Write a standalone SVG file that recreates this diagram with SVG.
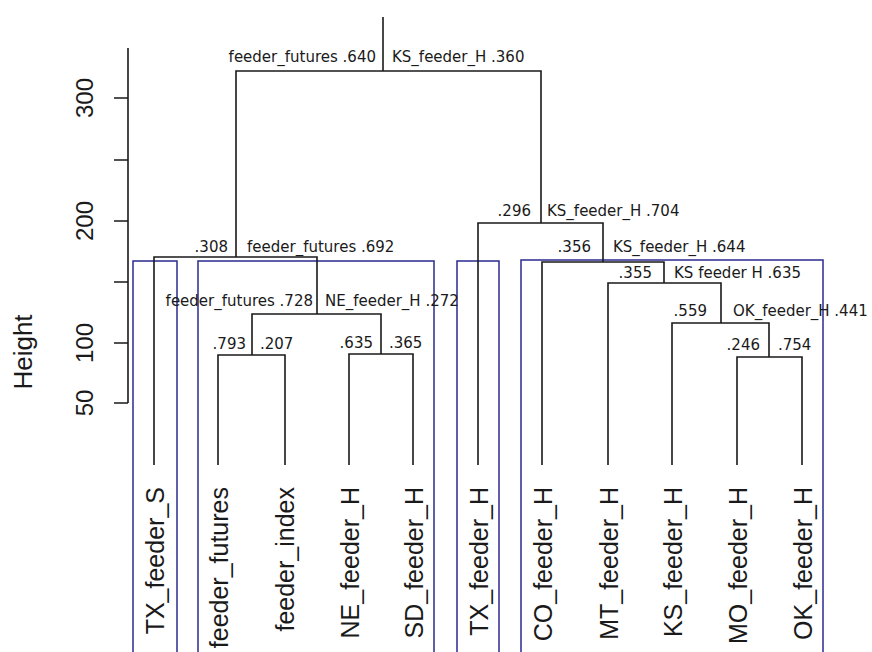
<svg xmlns="http://www.w3.org/2000/svg" width="872" height="652" viewBox="0 0 872 652">
<style>
.ln{fill:none;stroke:#1a1a1a;stroke-width:1.6}
.box{fill:none;stroke:#2a2a8e;stroke-width:1.5}
.nl{font-family:"DejaVu Sans",sans-serif;font-size:15px;fill:#1a1a1a}
.leaf{font-family:"Liberation Sans",Arial,sans-serif;font-size:25px;fill:#1a1a1a;text-anchor:end}
.ax{font-family:"Liberation Sans",Arial,sans-serif;font-size:24px;fill:#1a1a1a;text-anchor:middle}
.e{text-anchor:end}
</style>
<rect width="872" height="652" fill="#ffffff"/>
<g id="axis">
<path class="ln" d="M128 48V403M114 98H128M114 160H128M114 221H128M114 282H128M114 343H128M114 403H128"/>
<text class="ax" transform="translate(93,98) rotate(-90)">300</text>
<text class="ax" transform="translate(93,221) rotate(-90)">200</text>
<text class="ax" transform="translate(93,343) rotate(-90)">100</text>
<text class="ax" transform="translate(93,403) rotate(-90)">50</text>
<text class="ax" style="font-size:26px" transform="translate(32,352) rotate(-90)">Height</text>
</g>
<g id="clusters">
<rect class="box" x="133" y="261" width="44" height="400"/>
<rect class="box" x="198" y="261" width="236" height="400"/>
<rect class="box" x="457" y="261" width="42" height="400"/>
<rect class="box" x="521" y="260" width="302" height="400"/>
</g>
<g id="connectors">
<path class="ln" d="M218 465V355H285V465"/>
<path class="ln" d="M349 465V354H413V465"/>
<path class="ln" d="M252 355V314H381V354"/>
<path class="ln" d="M154 465V257H317V314"/>
<path class="ln" d="M236 257V71H541V223"/>
<path class="ln" d="M383 71V17"/>
<path class="ln" d="M737 465V357H802V465"/>
<path class="ln" d="M672 465V323H769V357"/>
<path class="ln" d="M608 465V283H721V323"/>
<path class="ln" d="M542 465V262H664V283"/>
<path class="ln" d="M478 465V223H603V262"/>
</g>
<g id="leaf-TX_feeder_S"><text class="leaf" transform="translate(164,487) rotate(-90)">TX_feeder_S</text></g>
<g id="leaf-feeder_futures"><text class="leaf" transform="translate(228,487) rotate(-90)">feeder_futures</text></g>
<g id="leaf-feeder_index"><text class="leaf" transform="translate(294,487) rotate(-90)">feeder_index</text></g>
<g id="leaf-NE_feeder_H"><text class="leaf" transform="translate(359,487) rotate(-90)">NE_feeder_H</text></g>
<g id="leaf-SD_feeder_H"><text class="leaf" transform="translate(423,487) rotate(-90)">SD_feeder_H</text></g>
<g id="leaf-TX_feeder_H"><text class="leaf" transform="translate(488,487) rotate(-90)">TX_feeder_H</text></g>
<g id="leaf-CO_feeder_H"><text class="leaf" transform="translate(552,487) rotate(-90)">CO_feeder_H</text></g>
<g id="leaf-MT_feeder_H"><text class="leaf" transform="translate(618,487) rotate(-90)">MT_feeder_H</text></g>
<g id="leaf-KS_feeder_H"><text class="leaf" transform="translate(682,487) rotate(-90)">KS_feeder_H</text></g>
<g id="leaf-MO_feeder_H"><text class="leaf" transform="translate(747,487) rotate(-90)">MO_feeder_H</text></g>
<g id="leaf-OK_feeder_H"><text class="leaf" transform="translate(812,487) rotate(-90)">OK_feeder_H</text></g>
<g id="node-root"><text class="nl e" x="376" y="62">feeder_futures .640</text><text class="nl" x="392" y="62">KS_feeder_H .360</text></g>
<g id="node-left"><text class="nl e" x="228" y="252">.308</text><text class="nl" x="247" y="252">feeder_futures .692</text></g>
<g id="node-left2"><text class="nl e" x="313" y="306">feeder_futures .728</text><text class="nl" x="325" y="306">NE_feeder_H .272</text></g>
<g id="node-futures-index"><text class="nl e" x="246" y="349">.793</text><text class="nl" x="260" y="349">.207</text></g>
<g id="node-NE-SD"><text class="nl e" x="373" y="348">.635</text><text class="nl" x="389" y="348">.365</text></g>
<g id="node-right"><text class="nl e" x="531" y="216">.296</text><text class="nl" x="547" y="216">KS_feeder_H .704</text></g>
<g id="node-right2"><text class="nl e" x="591" y="252">.356</text><text class="nl" x="613" y="252">KS_feeder_H .644</text></g>
<g id="node-right3"><text class="nl e" x="652" y="278">.355</text><text class="nl" x="674" y="278">KS feeder H .635</text></g>
<g id="node-right4"><text class="nl e" x="707" y="316">.559</text><text class="nl" x="733" y="316">OK_feeder_H .441</text></g>
<g id="node-MO-OK"><text class="nl e" x="760" y="350">.246</text><text class="nl" x="778" y="350">.754</text></g>
</svg>
